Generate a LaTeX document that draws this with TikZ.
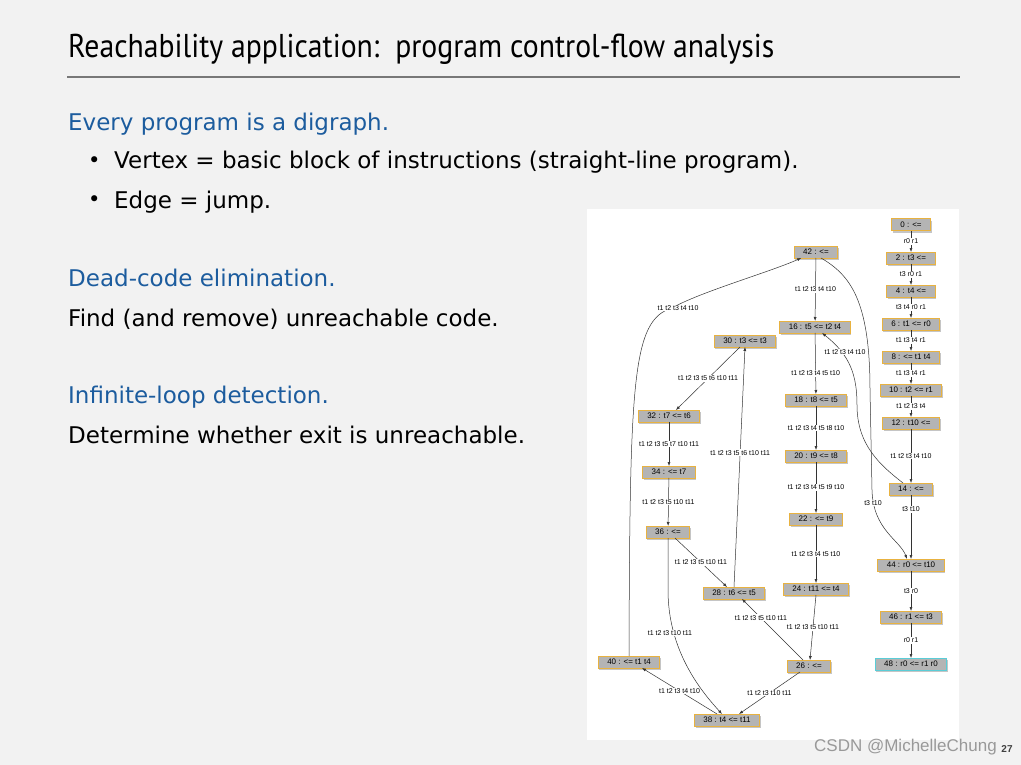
\documentclass[tikz,border=0pt]{standalone}
\usepackage{fontspec}
\setmainfont{DejaVu Sans}
\newfontfamily\titlefont[FakeStretch=0.9]{PT Sans}
\newfontfamily\graphfont{Liberation Sans}
\usetikzlibrary{positioning,arrows.meta,shadows}
\definecolor{slidebg}{RGB}{242,242,242}
\definecolor{headblue}{RGB}{28,92,158}
\definecolor{blockfill}{RGB}{180,180,180}
\definecolor{blockline}{RGB}{232,178,64}
\definecolor{exitline}{RGB}{90,205,215}
\definecolor{rulegray}{RGB}{120,120,120}

\begin{document}
\begin{tikzpicture}[x=1pt,y=-1pt,
  block/.style={rectangle,draw=blockline,fill=blockfill,line width=1pt,outer sep=0pt,minimum height=12pt,inner xsep=9pt,inner ysep=0pt,font=\graphfont\fontsize{8}{9}\selectfont,drop shadow={opacity=0.45,shadow xshift=1.2pt,shadow yshift=-1.8pt}},
  jump/.style={draw=black!80,line width=0.5pt,-{Latex[length=4pt,width=3pt]}},
  lbl/.style={fill=white,inner sep=1pt,font=\graphfont\fontsize{7}{8}\selectfont},
  head/.style={anchor=base west,inner sep=0pt,text=headblue,font=\fontsize{23}{28}\selectfont},
  body/.style={anchor=base west,inner sep=0pt,font=\fontsize{23}{28}\selectfont},
  node distance=21pt]
		\useasboundingbox (0,0) rectangle (1021,765);
		\fill[slidebg] (0,0) rectangle (1021,765);
		\fill[white] (587,209) rectangle (959,740);
		% slide text
		\node[anchor=base west,inner sep=0pt,font=\titlefont\fontsize{33}{36}\selectfont] (title) at (68,58) {Reachability application:\ \ program control-flow analysis};
		\draw[rulegray,line width=2pt] (67,77) -- (960,77);
		\node[head] (every) at (68,131) {Every program is a digraph.};
		\node[body,font=\fontsize{21}{24}\selectfont] (b1) at (88,168) {•};
		\node[body] (vertex) at (114,169) {Vertex = basic block of instructions (straight-line program).};
		\node[body,font=\fontsize{21}{24}\selectfont] (b2) at (88,207) {•};
		\node[body] (edge) at (114,208) {Edge = jump.};
		\node[head] (dead) at (68,286) {Dead-code elimination.};
		\node[body] (find) at (68,326) {Find (and remove) unreachable code.};
		\node[head] (inf) at (68,403) {Infinite-loop detection.};
		\node[body] (det) at (68,443) {Determine whether exit is unreachable.};
		% right column
		\node[block] (n0) at (911,225) {0 : <=};
		\node[block] (n2) [below = of n0] {2 : t3 <=};
		\node[block] (n4) [below = of n2] {4 : t4 <=};
		\node[block] (n6) [below = of n4] {6 : t1 <= r0};
		\node[block] (n8) [below = of n6] {8 : <= t1 t4};
		\node[block] (n10) [below = of n8] {10 : t2 <= r1};
		\node[block] (n12) [below = of n10] {12 : t10 <=};
		\node[block] (n14) [below = 54pt of n12] {14 : <=};
		\node[block] (n44) [below = 64pt of n14] {44 : r0 <= t10};
		\node[block] (n46) [below = 40pt of n44] {46 : r1 <= t3};
		\node[block,draw=exitline] (n48) [below = 35pt of n46] {48 : r0 <= r1 r0};
		% middle column
		\node[block] (n42) at (816,252) {42 : <=};
		\node[block] (n16) at (815,327) {16 : t5 <= t2 t4};
		\node[block] (n18) at (816,400) {18 : t8 <= t5};
		\node[block] (n20) at (816,456) {20 : t9 <= t8};
		\node[block] (n22) at (816,519) {22 : <= t9};
		\node[block] (n24) at (816,589) {24 : t11 <= t4};
		\node[block] (n26) at (809,666) {26 : <=};
		% left part
		\node[block] (n30) at (745,341) {30 : t3 <= t3};
		\node[block] (n32) at (669,416) {32 : t7 <= t6};
		\node[block] (n34) at (669,472) {34 : <= t7};
		\node[block] (n36) at (668,532) {36 : <=};
		\node[block] (n28) at (734,593) {28 : t6 <= t5};
		\node[block] (n40) at (629,662) {40 : <= t1 t4};
		\node[block] (n38) at (727,720) {38 : t4 <= t11};
		% jumps
		\draw[jump] (n0) -- node[lbl] {r0 r1} (n2);
		\draw[jump] (n2) -- node[lbl] {t3 r0 r1} (n4);
		\draw[jump] (n4) -- node[lbl] {t3 t4 r0 r1} (n6);
		\draw[jump] (n6) -- node[lbl] {t1 t3 t4 r1} (n8);
		\draw[jump] (n8) -- node[lbl] {t1 t3 t4 r1} (n10);
		\draw[jump] (n10) -- node[lbl] {t1 t2 t3 t4} (n12);
		\draw[jump] (n12) -- node[lbl] {t1 t2 t3 t4 t10} (n14);
		\draw[jump] (n14) -- node[lbl,pos=0.22] {t3 t10} (n44);
		\draw[jump] (n44) -- node[lbl] {t3 r0} (n46);
		\draw[jump] (n46) -- node[lbl] {r0 r1} (n48);
		\draw[jump] (n42) -- node[lbl] {t1 t2 t3 t4 t10} (n16);
		\draw[jump] (n16) -- node[lbl,pos=0.66] {t1 t2 t3 t4 t5 t10} (n18);
		\draw[jump] (n18) -- node[lbl] {t1 t2 t3 t4 t5 t8 t10} (n20);
		\draw[jump] (n20) -- node[lbl] {t1 t2 t3 t4 t5 t9 t10} (n22);
		\draw[jump] (n22) -- node[lbl] {t1 t2 t3 t4 t5 t10} (n24);
		\draw[jump] (n24.south) -- node[lbl] {t1 t2 t3 t5 t10 t11} ([xshift=1pt]n26.north);
		\draw[jump] ([xshift=-6pt]n26.north) -- node[lbl,pos=0.69] {t1 t2 t3 t5 t10 t11} ([xshift=8pt]n28.south);
		\draw[jump] ([xshift=-9pt]n26.south) -- node[lbl] {t1 t2 t3 t10 t11} ([xshift=12pt]n38.north);
		\draw[jump] ([xshift=-10pt]n38.north) -- node[lbl] {t1 t2 t3 t4 t10} ([xshift=13pt]n40.south);
		\draw[jump] (n28.north) -- node[lbl,pos=0.56] {t1 t2 t3 t5 t6 t10 t11} (n30.south);
		\draw[jump] ([xshift=-5pt]n30.south) -- node[lbl] {t1 t2 t3 t5 t6 t10 t11} ([xshift=7pt]n32.north);
		\draw[jump] (n32) -- node[lbl] {t1 t2 t3 t5 t7 t10 t11} (n34);
		\draw[jump] (n34) -- node[lbl] {t1 t2 t3 t5 t10 t11} (n36);
		\draw[jump] ([xshift=7pt]n36.south) -- node[lbl] {t1 t2 t3 t5 t10 t11} ([xshift=-7pt]n28.north);
		\draw[jump] (n36.south) -- (668,590) .. controls (668,650) and (700,690) .. ([xshift=-5pt]n38.north);
		\draw[jump] (n40.north) .. controls (630,380) and (632,320) .. (672,308) .. controls (700,292) and (770,272) .. ([xshift=7pt]n42.south west);
		\draw[jump] ([xshift=5pt]n42.south) .. controls (850,275) and (870,300) .. (870,390) -- (872,490) .. controls (873,530) and (900,540) .. ([xshift=-4pt]n44.north);
		\draw[jump] ([xshift=-8pt]n14.north) .. controls (880,465) and (857,445) .. (857,405) .. controls (857,375) and (850,355) .. ([xshift=7pt]n16.south);
		\node[lbl] (l36) at (670,633) {t1 t2 t3 t10 t11};
		\node[lbl] (l40) at (678,308) {t1 t2 t3 t4 t10};
		\node[lbl] (l42) at (873,503) {t3 t10};
		\node[lbl] (l14) at (845,352) {t1 t2 t3 t4 t10};
		% footer
		\node[anchor=base west,inner sep=0pt,text=black!40,font=\graphfont\fontsize{17}{20}\selectfont] (mark) at (814,751) {CSDN @MichelleChung};
		\node[text=black!75,font=\graphfont\bfseries\fontsize{10}{12}\selectfont] (page) at (1007,749) {27};
	\end{tikzpicture}
\end{document}
